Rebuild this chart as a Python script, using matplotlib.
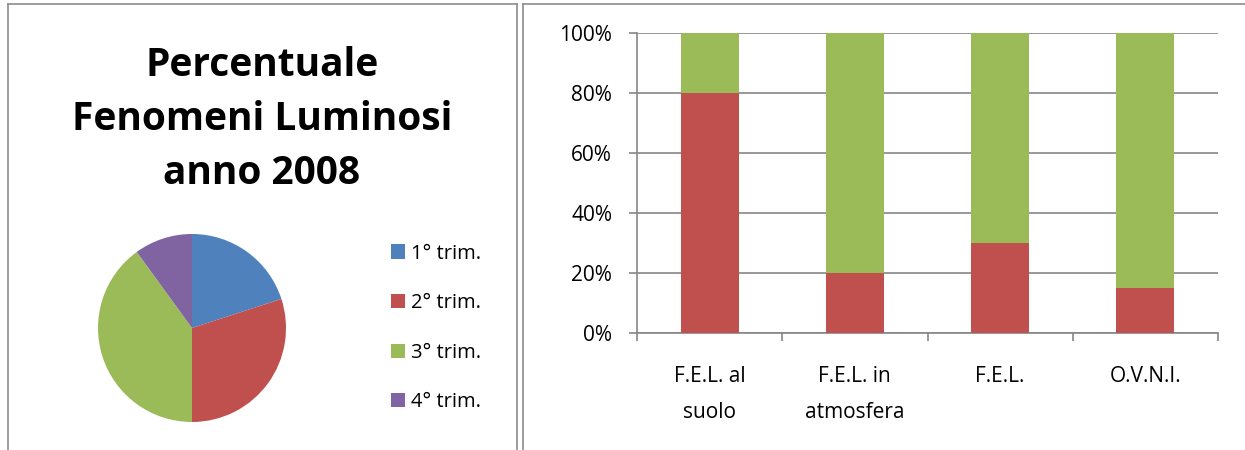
import matplotlib
matplotlib.use("Agg")
import matplotlib.pyplot as plt
from matplotlib.lines import Line2D
from matplotlib.patches import Patch
import numpy as np

# ---- data ----
pie_labels = ["1° trim.", "2° trim.", "3° trim.", "4° trim."]
pie_values = [20, 30, 40, 10]
pie_colors = ["#4F81BD", "#C0504D", "#9BBB59", "#8064A2"]

categories = ["F.E.L. al\nsuolo", "F.E.L. in\natmosfera", "F.E.L.", "O.V.N.I."]
red_values = [80, 20, 30, 15]
green_values = [20, 80, 70, 85]
yticks = [0, 20, 40, 60, 80, 100]
ytick_labels = ["0%", "20%", "40%", "60%", "80%", "100%"]

title_text = "Percentuale\nFenomeni Luminosi\nanno 2008"

W, H = 1245, 450
plt.rcParams['font.family'] = ['Open Sans', 'DejaVu Sans']
fig = plt.figure(figsize=(W / 100, H / 100), dpi=100)

def fx(px):
    return px / W

def fy(py):
    return 1 - py / H

border = "#8C8C8C"
# panel borders
for (x0, y0, x1, y1) in [(7.5, 3.5, 7.5, 450), (7.5, 3.5, 516.5, 3.5), (516.5, 3.5, 516.5, 450),
                         (523, 4, 523, 450), (523, 4, 1245, 4)]:
    fig.add_artist(Line2D([fx(x0), fx(x1)], [fy(y0), fy(y1)], color=border, lw=1.2))

# title
fig.text(fx(262), fy(119), title_text, ha="center", va="center", fontsize=28,
         fontweight="bold", linespacing=1.5)

# pie
cx, cy, r = 192, 328, 94
axp = fig.add_axes([fx(cx - r), fy(cy + r), fx(2 * r), (2 * r) / H])
axp.pie(pie_values, colors=pie_colors, startangle=90, counterclock=False, radius=1)
axp.set_xlim(-1, 1)
axp.set_ylim(-1, 1)
axp.set_aspect("auto")
axp.axis("off")

handles = [Patch(facecolor=c, edgecolor="none") for c in pie_colors]
fig.legend(handles, pie_labels, loc="center left", bbox_to_anchor=(fx(373), fy(328)),
           frameon=False, fontsize=14.5, handlelength=0.7, handleheight=0.7,
           handletextpad=0.3, labelspacing=1.47)

# stacked bar chart
axb = fig.add_axes([fx(637), fy(333), fx(1218) - fx(637), 300 / H])
x = np.arange(len(categories))
grid_c = "#868686"
axb.bar(x, red_values, width=0.4, color="#C0504D", zorder=3)
axb.bar(x, green_values, width=0.4, bottom=red_values, color="#9BBB59", zorder=3)
axb.set_xlim(-0.5, len(categories) - 0.5)
axb.set_ylim(0, 100)
axb.set_yticks(yticks)
axb.set_yticklabels(ytick_labels)
axb.yaxis.grid(True, color=grid_c, lw=1.2, zorder=0)
axb.set_axisbelow(True)
axb.set_xticks(np.arange(-0.5, len(categories), 1.0))
axb.set_xticklabels([])
axb.set_xticks(x, minor=True)
axb.set_xticklabels(categories, minor=True)
axb.tick_params(axis="x", which="major", length=6, width=1.2, color=grid_c, direction="out")
axb.tick_params(axis="x", which="minor", length=0, pad=24, labelsize=15)
axb.tick_params(axis="y", length=6, width=1.2, color=grid_c, pad=12, labelsize=15)
for s in ["top", "right"]:
    axb.spines[s].set_visible(False)
for s in ["left", "bottom"]:
    axb.spines[s].set_color(grid_c)
    axb.spines[s].set_linewidth(1.2)
for lab in axb.get_xticklabels(minor=True):
    lab.set_linespacing(1.9)

fig.savefig("out.png", dpi=100)
